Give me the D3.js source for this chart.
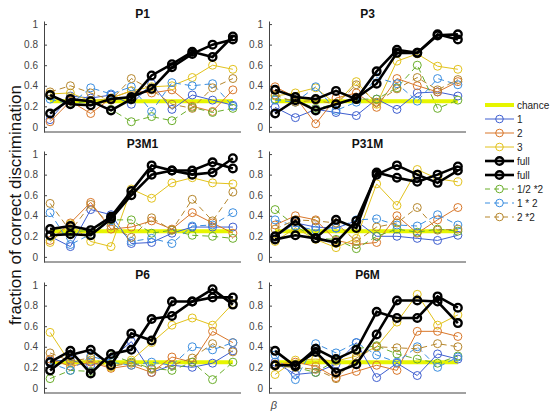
<!DOCTYPE html>
<html>
<head>
<meta charset="utf-8">
<script src="https://d3js.org/d3.v7.min.js"></script>
<style>
body { margin: 0; background: #fff; }
text { font-family: "Liberation Sans", Arial, sans-serif; }
</style>
</head>
<body>
<div id="chart"></div>
<script>

// panel titles
var panels = ['P1', 'P3', 'P3M1', 'P31M', 'P6', 'P6M'];

var xs = [1, 2, 3, 4, 5, 6, 7, 8, 9, 10];
var chance = 0.25;

// series per panel, same order as panels
var s1 = [
	[0.07, 0.30, 0.28, 0.31, 0.22, 0.42, 0.17, 0.31, 0.26, 0.21],
	[0.19, 0.09, 0.17, 0.14, 0.11, 0.27, 0.17, 0.33, 0.34, 0.30],
	[0.20, 0.10, 0.46, 0.41, 0.13, 0.14, 0.23, 0.29, 0.29, 0.29],
	[0.19, 0.33, 0.29, 0.28, 0.35, 0.20, 0.20, 0.18, 0.16, 0.21],
	[0.26, 0.27, 0.22, 0.28, 0.45, 0.15, 0.22, 0.20, 0.24, 0.36],
	[0.25, 0.13, 0.15, 0.23, 0.44, 0.10, 0.24, 0.12, 0.33, 0.28]
];
var s2 = [
	[0.05, 0.25, 0.13, 0.28, 0.35, 0.33, 0.36, 0.20, 0.15, 0.36],
	[0.39, 0.29, 0.03, 0.28, 0.33, 0.19, 0.47, 0.40, 0.34, 0.44],
	[0.16, 0.33, 0.53, 0.27, 0.29, 0.35, 0.27, 0.43, 0.33, 0.23],
	[0.31, 0.40, 0.36, 0.16, 0.12, 0.14, 0.40, 0.23, 0.36, 0.48],
	[0.28, 0.21, 0.25, 0.19, 0.22, 0.15, 0.30, 0.25, 0.55, 0.44],
	[0.23, 0.25, 0.21, 0.10, 0.16, 0.22, 0.17, 0.55, 0.55, 0.50]
];
var s3 = [
	[0.32, 0.33, 0.25, 0.28, 0.35, 0.39, 0.40, 0.48, 0.60, 0.56],
	[0.30, 0.33, 0.38, 0.22, 0.44, 0.22, 0.64, 0.71, 0.59, 0.56],
	[0.14, 0.32, 0.15, 0.10, 0.66, 0.57, 0.72, 0.77, 0.72, 0.71],
	[0.15, 0.28, 0.17, 0.09, 0.18, 0.71, 0.50, 0.85, 0.76, 0.73],
	[0.54, 0.24, 0.27, 0.20, 0.27, 0.44, 0.61, 0.68, 0.61, 0.82],
	[0.13, 0.27, 0.28, 0.26, 0.31, 0.40, 0.64, 0.91, 0.61, 0.71]
];
var fullA = [
	[0.13, 0.27, 0.25, 0.16, 0.27, 0.50, 0.61, 0.73, 0.68, 0.88],
	[0.36, 0.29, 0.27, 0.35, 0.27, 0.54, 0.75, 0.72, 0.90, 0.85],
	[0.27, 0.30, 0.26, 0.39, 0.64, 0.89, 0.84, 0.80, 0.82, 0.96],
	[0.20, 0.35, 0.18, 0.36, 0.28, 0.82, 0.77, 0.73, 0.80, 0.88],
	[0.17, 0.32, 0.37, 0.22, 0.53, 0.46, 0.84, 0.84, 0.88, 0.88],
	[0.36, 0.21, 0.38, 0.28, 0.37, 0.74, 0.68, 0.68, 0.89, 0.78]
];
var fullB = [
	[0.31, 0.22, 0.21, 0.27, 0.29, 0.37, 0.58, 0.71, 0.80, 0.85],
	[0.13, 0.26, 0.16, 0.22, 0.28, 0.42, 0.72, 0.72, 0.89, 0.90],
	[0.21, 0.22, 0.21, 0.37, 0.60, 0.80, 0.84, 0.84, 0.92, 0.86],
	[0.17, 0.21, 0.18, 0.14, 0.35, 0.80, 0.89, 0.80, 0.72, 0.84],
	[0.25, 0.36, 0.14, 0.33, 0.37, 0.67, 0.70, 0.84, 0.96, 0.81],
	[0.22, 0.22, 0.35, 0.15, 0.23, 0.52, 0.85, 0.85, 0.84, 0.63]
];
var half2 = [
	[0.30, 0.23, 0.25, 0.17, 0.05, 0.10, 0.06, 0.19, 0.14, 0.18],
	[0.27, 0.26, 0.18, 0.22, 0.27, 0.27, 0.38, 0.60, 0.18, 0.26],
	[0.20, 0.24, 0.26, 0.36, 0.36, 0.23, 0.26, 0.21, 0.20, 0.18],
	[0.46, 0.30, 0.18, 0.17, 0.08, 0.20, 0.27, 0.24, 0.27, 0.25],
	[0.09, 0.17, 0.16, 0.32, 0.25, 0.19, 0.17, 0.25, 0.08, 0.25],
	[0.22, 0.20, 0.15, 0.27, 0.38, 0.41, 0.33, 0.28, 0.24, 0.31]
];
var one2 = [
	[0.27, 0.22, 0.38, 0.32, 0.39, 0.15, 0.43, 0.40, 0.42, 0.20],
	[0.26, 0.24, 0.39, 0.16, 0.24, 0.48, 0.42, 0.25, 0.47, 0.41],
	[0.43, 0.12, 0.22, 0.35, 0.15, 0.18, 0.13, 0.30, 0.31, 0.43],
	[0.36, 0.30, 0.26, 0.28, 0.36, 0.37, 0.31, 0.30, 0.41, 0.31],
	[0.24, 0.17, 0.31, 0.25, 0.22, 0.25, 0.22, 0.40, 0.37, 0.44],
	[0.32, 0.08, 0.43, 0.34, 0.44, 0.32, 0.25, 0.40, 0.20, 0.30]
];
var two2 = [
	[0.34, 0.40, 0.33, 0.26, 0.47, 0.36, 0.22, 0.18, 0.38, 0.47],
	[0.31, 0.24, 0.26, 0.22, 0.41, 0.24, 0.37, 0.48, 0.36, 0.46],
	[0.52, 0.25, 0.51, 0.30, 0.19, 0.38, 0.26, 0.56, 0.35, 0.63],
	[0.27, 0.36, 0.35, 0.33, 0.15, 0.29, 0.33, 0.48, 0.26, 0.27],
	[0.34, 0.26, 0.29, 0.21, 0.24, 0.18, 0.22, 0.29, 0.43, 0.35],
	[0.21, 0.20, 0.18, 0.09, 0.29, 0.40, 0.39, 0.38, 0.43, 0.40]
];

var legendNames = ['chance', '1', '2', '3', 'full', 'full', '1/2 *2', '1 * 2', '2 *2'];
var yTicks = [0, 0.2, 0.4, 0.6, 0.8, 1];

// series styles (drawing order: colored first, black on top)
var series = [
	{data: s1,    color: '#3f5fd0', dash: null, w: 1,   r: 4, black: false},
	{data: s2,    color: '#d9772a', dash: null, w: 1,   r: 4, black: false},
	{data: s3,    color: '#e2c21c', dash: null, w: 1,   r: 4, black: false},
	{data: half2, color: '#6aae2a', dash: '6,4', w: 1,  r: 4, black: false},
	{data: one2,  color: '#3b8ee0', dash: '6,4', w: 1,  r: 4, black: false},
	{data: two2,  color: '#b5862c', dash: '6,4', w: 1,  r: 4, black: false},
	{data: fullA, color: '#000000', dash: null, w: 2.6, r: 3.8, black: true},
	{data: fullB, color: '#000000', dash: null, w: 2.6, r: 3.8, black: true}
];

var W = 550, H = 420;
var svg = d3.select('#chart').append('svg').attr('width', W).attr('height', H);

var colX = [44, 269], pw = 197;
var rowTop = [21, 151, 282], ph = 111;

var x = d3.scaleLinear().domain([0.7, 10.4]).range([0, pw]);
var y = d3.scaleLinear().domain([-0.05, 1.03]).range([ph, 0]);

var line = d3.line().x(function(d, i){ return x(xs[i]); }).y(function(d){ return y(d); });

panels.forEach(function(name, p){
	var g = svg.append('g')
		.attr('transform', 'translate(' + colX[p % 2] + ',' + rowTop[Math.floor(p / 2)] + ')');

	// y axis
	var ya = g.append('g').call(d3.axisLeft(y).tickValues(yTicks).tickSizeInner(-3).tickSizeOuter(0)
		.tickPadding(6).tickFormat(function(d){ return d3.format('')(+d.toFixed(1)); }));
	ya.select('.domain').attr('stroke', '#444');
	ya.selectAll('.tick line').attr('stroke', '#444');
	ya.selectAll('.tick text').attr('fill', '#444').style('font-size', '10px')
		.style('font-family', '"Liberation Sans", Arial, sans-serif');

	// x axis line only
	g.append('line').attr('x1', 0).attr('x2', pw).attr('y1', ph).attr('y2', ph)
		.attr('stroke', '#444').attr('stroke-width', 1);

	g.append('text').attr('x', pw / 2).attr('y', -3).attr('text-anchor', 'middle')
		.style('font-size', '12px').style('font-weight', 'bold').attr('fill', '#111').text(name);

	// chance
	g.append('line').attr('x1', x(1)).attr('x2', x(10)).attr('y1', y(chance)).attr('y2', y(chance))
		.attr('stroke', '#e6f500').attr('stroke-width', 4);

	series.forEach(function(s){
		var vals = s.data[p];
		g.append('path').datum(vals).attr('d', line)
			.attr('fill', 'none').attr('stroke', s.color).attr('stroke-width', s.w)
			.attr('stroke-dasharray', s.dash);
		g.selectAll(null).data(vals).enter().append('circle')
			.attr('cx', function(d, i){ return x(xs[i]); })
			.attr('cy', function(d){ return y(d); })
			.attr('r', s.r)
			.attr('fill', 'none')
			.attr('stroke', s.color)
			.attr('stroke-width', s.black ? 2.4 : 1);
	});
});

// y label
svg.append('text').attr('transform', 'translate(21,205) rotate(-90)')
	.attr('text-anchor', 'middle').style('font-size', '17px').attr('fill', '#111')
	.text('fraction of correct discrimination');

svg.append('text').attr('x', 274).attr('y', 409).attr('text-anchor', 'middle')
	.style('font-size', '11px').style('font-style', 'italic').attr('fill', '#444').text('β');

// legend
var legStyles = [
	{color: '#e6f500', w: 4, dash: null, marker: false, mw: 0},
	{color: '#3f5fd0', w: 1, dash: null, marker: true, mw: 1},
	{color: '#d9772a', w: 1, dash: null, marker: true, mw: 1},
	{color: '#e2c21c', w: 1, dash: null, marker: true, mw: 1},
	{color: '#000000', w: 2.6, dash: null, marker: true, mw: 2.4},
	{color: '#000000', w: 2.6, dash: null, marker: true, mw: 2.4},
	{color: '#6aae2a', w: 1, dash: '6,4', marker: true, mw: 1},
	{color: '#3b8ee0', w: 1, dash: '6,4', marker: true, mw: 1},
	{color: '#b5862c', w: 1, dash: '6,4', marker: true, mw: 1}
];
var leg = svg.append('g').attr('transform', 'translate(485,105)');
legendNames.forEach(function(n, i){
	var st = legStyles[i];
	var row = leg.append('g').attr('transform', 'translate(0,' + (i * 14) + ')');
	row.append('line').attr('x1', 0).attr('x2', 29).attr('y1', 0).attr('y2', 0)
		.attr('stroke', st.color).attr('stroke-width', st.w).attr('stroke-dasharray', st.dash ? '5,4' : null);
	if (st.marker) {
		row.append('circle').attr('cx', 14.5).attr('cy', 0).attr('r', 3.8)
			.attr('fill', 'none').attr('stroke', st.color).attr('stroke-width', st.mw);
	}
	row.append('text').attr('x', 32).attr('y', 3.5).style('font-size', '10px').attr('fill', '#222').text(n);
});

</script>
</body>
</html>
